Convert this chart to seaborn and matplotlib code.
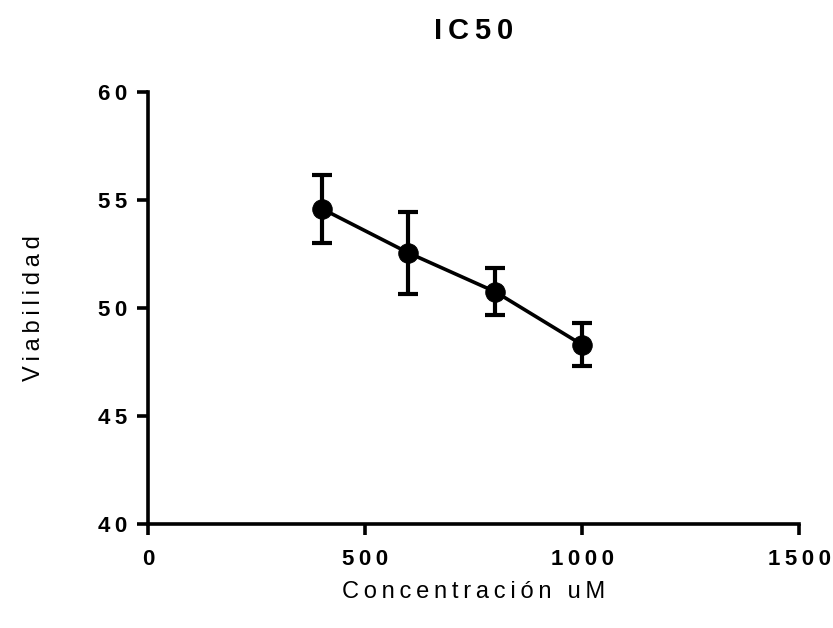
import numpy as np
import pandas as pd
import seaborn as sns
import matplotlib.pyplot as plt

# data (mean +/- error)
concentracion = [400, 600, 800, 1000]
viabilidad = [54.6, 52.55, 50.75, 48.3]
error = [1.57, 1.9, 1.08, 1.0]

x_ticks = [0, 500, 1000, 1500]
y_ticks = [40, 45, 50, 55, 60]


def spaced(text, sep='\u2009'):
    # Prism-style letter spacing
    return sep.join(text)


sns.set_style('white')
plt.rcParams['font.family'] = ['Liberation Sans', 'DejaVu Sans']
plt.rcParams['text.color'] = 'black'
plt.rcParams['axes.labelcolor'] = 'black'
plt.rcParams['xtick.color'] = 'black'
plt.rcParams['ytick.color'] = 'black'

df = pd.DataFrame({'conc': concentracion, 'viab': viabilidad})

fig = plt.figure(figsize=(8.33, 6.28), dpi=100)
ax = fig.add_axes([0.1777, 0.1656, 0.7815, 0.688])

ax.errorbar(concentracion, viabilidad, yerr=error, fmt='none', ecolor='black',
            elinewidth=3, capsize=7, capthick=3, zorder=2)
sns.lineplot(data=df, x='conc', y='viab', color='black', linewidth=2.6,
             marker='o', markersize=14, markeredgecolor='black', ax=ax, zorder=3)

ax.set_xlim(0, 1500)
ax.set_ylim(40, 60)
ax.set_xticks(x_ticks)
ax.set_yticks(y_ticks)
ax.set_xticklabels([spaced(str(t)) for t in x_ticks], fontsize=16, fontweight='bold')
ax.set_yticklabels([spaced(str(t)) for t in y_ticks], fontsize=16, fontweight='bold')

sns.despine(ax=ax)
for s in ['left', 'bottom']:
    ax.spines[s].set_linewidth(2.6)
    ax.spines[s].set_color('black')
ax.tick_params(axis='both', which='major', direction='out', length=8, width=2.6,
               left=True, bottom=True)
ax.tick_params(axis='x', pad=10)
ax.tick_params(axis='y', pad=7)

ax.set_xlabel(spaced('Concentración uM'), fontsize=17, labelpad=8)
ax.set_ylabel(spaced('Viabilidad'), fontsize=17, labelpad=38)
ax.set_title(spaced('IC50'), fontsize=21, fontweight='bold', pad=38)

fig.savefig('out.png', dpi=100)
